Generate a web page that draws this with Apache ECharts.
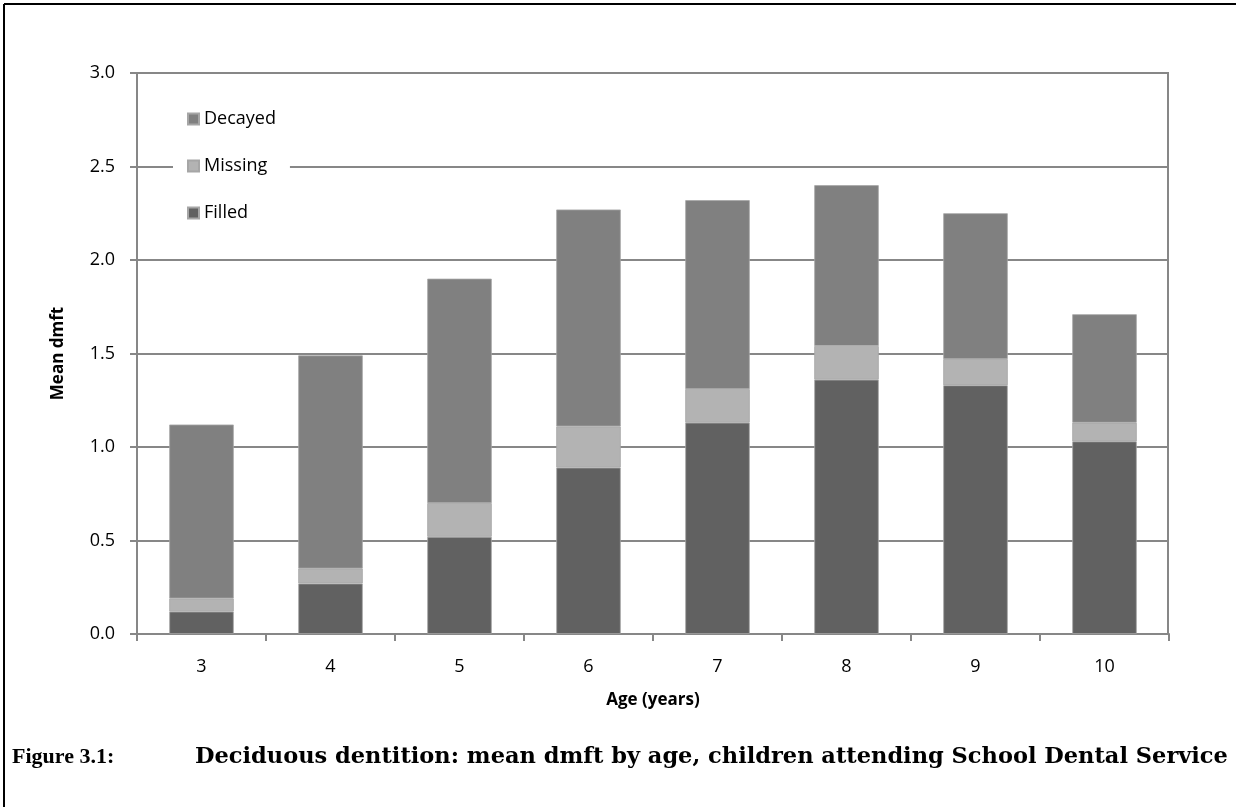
<!DOCTYPE html>
<html>
<head>
<meta charset="utf-8">
<script src="https://cdn.jsdelivr.net/npm/echarts@6/dist/echarts.min.js"></script>
<style>
html,body{margin:0;padding:0;background:#fff;}
#c{width:1236px;height:807px;}
</style>
</head>
<body>
<div id="c"></div>
<script>
const ages = ['3','4','5','6','7','8','9','10'];
const filled  = [0.12, 0.27, 0.52, 0.89, 1.13, 1.36, 1.33, 1.03];
const missing = [0.07, 0.08, 0.18, 0.22, 0.18, 0.18, 0.14, 0.10];
const decayed = [0.93, 1.14, 1.20, 1.16, 1.01, 0.86, 0.78, 0.58];
const yTicks = [0, 0.5, 1.0, 1.5, 2.0, 2.5, 3.0];
const captionLabel = 'Figure 3.1:';
const captionText = 'Deciduous dentition: mean dmft by age, children attending School Dental Service';

const chart = echarts.init(document.getElementById('c'), null, {renderer:'canvas'});
const axisGray = '#878787';
const font = '"Open Sans", "Liberation Sans", sans-serif';
const barBorder = {borderColor:'#a6a6a6', borderWidth:0.8};
chart.setOption({
  animation:false,
  backgroundColor:'#fff',
  grid:{left:137, right:67, top:73, bottom:173},
  legend:{
    orient:'vertical', left:173, top:102, itemGap:29,
    itemWidth:11, itemHeight:11, icon:'rect',
    padding:[8,14,8,14],
    backgroundColor:'#fff',
    textStyle:{fontFamily:font, fontSize:18, color:'#000', padding:[0,0,0,0]},
    data:['Decayed','Missing','Filled']
  },
  xAxis:{
    type:'category', data:ages,
    axisLine:{lineStyle:{color:axisGray, width:2}},
    axisTick:{show:true, length:7, lineStyle:{color:axisGray, width:2}, alignWithLabel:false},
    axisLabel:{fontFamily:font, fontSize:18, color:'#000', margin:24},
    name:'Age (years)', nameLocation:'middle', nameGap:58,
    nameTextStyle:{fontFamily:font, fontSize:17, fontWeight:'bold', color:'#000'}
  },
  yAxis:{
    type:'value', min:0, max:3, interval:0.5,
    axisLine:{show:true, lineStyle:{color:axisGray, width:2}},
    axisTick:{show:true, length:7, inside:false, lineStyle:{color:axisGray, width:2}},
    splitLine:{show:true, lineStyle:{color:axisGray, width:2}},
    axisLabel:{fontFamily:font, fontSize:18, color:'#000', margin:22,
      formatter:v => yTicks.includes(v) ? v.toFixed(1) : ''},
    name:'Mean dmft', nameLocation:'middle', nameGap:70, nameRotate:90,
    nameTextStyle:{fontFamily:font, fontSize:17, fontWeight:'bold', color:'#000'}
  },
  graphic:[
    {type:'rect', shape:{x:1168, y:73, width:0, height:561}, style:{stroke:axisGray, lineWidth:2}, z:10},
    {type:'line', shape:{x1:4, y1:4, x2:1236, y2:4}, style:{stroke:'#000', lineWidth:2}},
    {type:'line', shape:{x1:4, y1:4, x2:4, y2:807}, style:{stroke:'#000', lineWidth:2}},
    {type:'text', left:12, top:746, style:{text:captionLabel, font:'bold 22px "Liberation Serif", serif', fill:'#000'}},
    {type:'text', left:195, top:746, style:{text:captionText, font:'bold 22.5px "DejaVu Serif", serif', fill:'#000'}}
  ],
  series:[
    {name:'Filled', type:'bar', stack:'t', data:filled, barWidth:'50%', itemStyle:Object.assign({color:'#616161'},barBorder)},
    {name:'Missing', type:'bar', stack:'t', data:missing, barWidth:'50%', itemStyle:Object.assign({color:'#b3b3b3'},barBorder)},
    {name:'Decayed', type:'bar', stack:'t', data:decayed, barWidth:'50%', itemStyle:Object.assign({color:'#808080'},barBorder)}
  ]
});
</script>
</body>
</html>
